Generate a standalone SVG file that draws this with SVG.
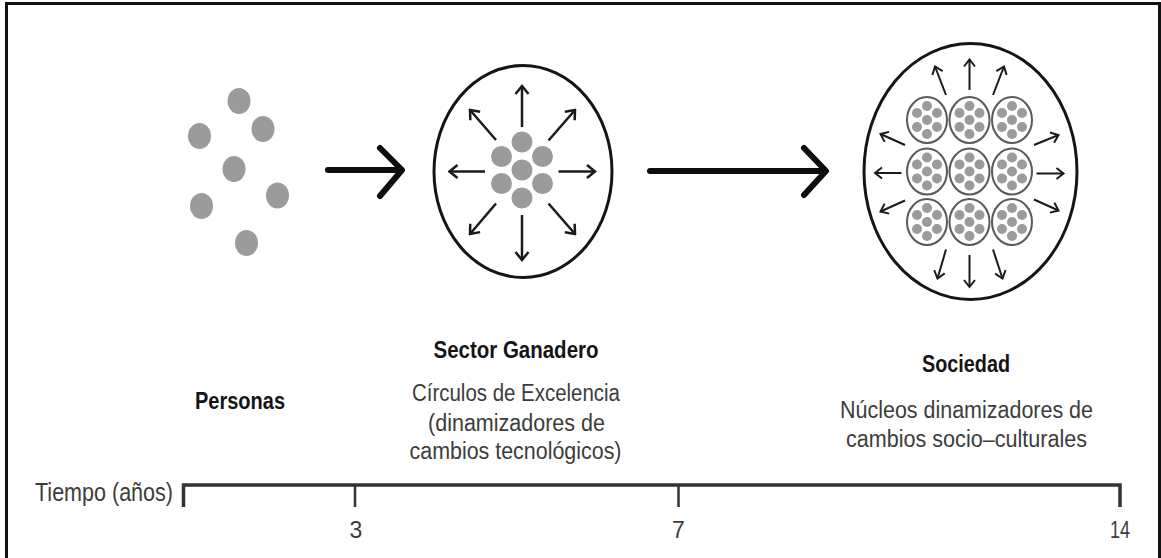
<svg xmlns="http://www.w3.org/2000/svg" xmlns:xlink="http://www.w3.org/1999/xlink" width="1161" height="558" viewBox="0 0 1161 558">
<style>
.frame{fill:none;stroke:#111;stroke-width:3}
.dot{fill:#9b9b9b}
.outer{fill:none;stroke:#151515;stroke-width:3}
.mini{fill:#fff;stroke:#5a5a5a;stroke-width:2}
.ray{fill:none;stroke:#1a1a1a;stroke-width:2.5}
.ray2{fill:none;stroke:#1a1a1a;stroke-width:2}
.big{fill:none;stroke:#0d0d0d;stroke-width:6;stroke-linecap:round;stroke-linejoin:round}
.axis{fill:none;stroke:#333;stroke-width:3.5}
.tick{fill:none;stroke:#333;stroke-width:2.5}
.title{font-family:"Liberation Sans",Arial,sans-serif;font-weight:bold;font-size:23px;fill:#141414;text-anchor:middle}
.desc{font-family:"Liberation Sans",Arial,sans-serif;font-size:23px;fill:#3c3c3c;text-anchor:middle}
.num{font-family:"Liberation Sans",Arial,sans-serif;font-size:23px;fill:#3c3c3c;text-anchor:middle}
</style>
<defs>
<marker id="ah" viewBox="-10 -8 12 16" refX="0" refY="0" markerWidth="12" markerHeight="16" markerUnits="userSpaceOnUse" orient="auto">
<path d="M-8,-6.5 L0,0 L-8,6.5" fill="none" stroke="#1a1a1a" stroke-width="2.5"/>
</marker>
<marker id="ah2" viewBox="-10 -8 12 16" refX="0" refY="0" markerWidth="12" markerHeight="16" markerUnits="userSpaceOnUse" orient="auto">
<path d="M-7,-5.5 L0,0 L-7,5.5" fill="none" stroke="#1a1a1a" stroke-width="2"/>
</marker>
<g id="cl">
<ellipse class="mini" cx="0" cy="0" rx="20" ry="23"/>
<circle class="dot" cx="0" cy="-14" r="5"/>
<circle class="dot" cx="-10" cy="-7" r="5"/>
<circle class="dot" cx="10" cy="-7" r="5"/>
<circle class="dot" cx="0" cy="0" r="5"/>
<circle class="dot" cx="-10" cy="7" r="5"/>
<circle class="dot" cx="10" cy="7" r="5"/>
<circle class="dot" cx="0" cy="14" r="5"/>
</g>
</defs>
<rect width="1161" height="558" fill="#fff"/>
<path class="frame" d="M6.5,560 V3.5 H1159.5 V560"/>

<g id="personas">
<ellipse class="dot" cx="239" cy="101" rx="11.5" ry="13"/>
<ellipse class="dot" cx="263" cy="129" rx="11.5" ry="13"/>
<ellipse class="dot" cx="199.5" cy="136" rx="11.5" ry="13"/>
<ellipse class="dot" cx="234" cy="169" rx="11.5" ry="13"/>
<ellipse class="dot" cx="201.5" cy="206" rx="11.5" ry="13"/>
<ellipse class="dot" cx="277.5" cy="195.5" rx="11.5" ry="13"/>
<ellipse class="dot" cx="246.5" cy="243" rx="11.5" ry="13"/>
<text class="title" x="240" y="409" textLength="90" lengthAdjust="spacingAndGlyphs">Personas</text>
</g>

<g id="sector">
<ellipse class="outer" cx="523" cy="171.5" rx="89" ry="106"/>
<circle class="dot" cx="522" cy="142" r="10.5"/>
<circle class="dot" cx="501.5" cy="156.5" r="10.5"/>
<circle class="dot" cx="542.5" cy="156.5" r="10.5"/>
<circle class="dot" cx="522" cy="170" r="10.5"/>
<circle class="dot" cx="501.5" cy="183.5" r="10.5"/>
<circle class="dot" cx="542.5" cy="183.5" r="10.5"/>
<circle class="dot" cx="522" cy="198" r="10.5"/>
<g marker-end="url(#ah)">
<line class="ray" x1="522" y1="127" x2="522" y2="86"/>
<line class="ray" x1="522" y1="215" x2="522" y2="260"/>
<line class="ray" x1="485" y1="171.5" x2="449.5" y2="171.5"/>
<line class="ray" x1="558.5" y1="171.5" x2="595" y2="171.5"/>
<line class="ray" x1="496" y1="140" x2="470" y2="110"/>
<line class="ray" x1="548.5" y1="140.5" x2="575" y2="110"/>
<line class="ray" x1="496" y1="203.5" x2="470" y2="234"/>
<line class="ray" x1="548.5" y1="203.5" x2="575" y2="234"/>
</g>
<text class="title" x="516" y="358" textLength="165" lengthAdjust="spacingAndGlyphs">Sector Ganadero</text>
<text class="desc" x="516" y="401" textLength="208" lengthAdjust="spacingAndGlyphs">Círculos de Excelencia</text>
<text class="desc" x="516.5" y="430.5" textLength="177" lengthAdjust="spacingAndGlyphs">(dinamizadores de</text>
<text class="desc" x="515.5" y="459" textLength="212" lengthAdjust="spacingAndGlyphs">cambios tecnológicos)</text>
</g>

<g id="sociedad">
<ellipse class="outer" cx="970.5" cy="171.5" rx="106.5" ry="128"/>
<use xlink:href="#cl" x="927" y="120"/>
<use xlink:href="#cl" x="969.5" y="120"/>
<use xlink:href="#cl" x="1012" y="120"/>
<use xlink:href="#cl" x="927" y="171.5"/>
<use xlink:href="#cl" x="969.5" y="171.5"/>
<use xlink:href="#cl" x="1012" y="171.5"/>
<use xlink:href="#cl" x="927" y="222"/>
<use xlink:href="#cl" x="969.5" y="222"/>
<use xlink:href="#cl" x="1012" y="222"/>
<g marker-end="url(#ah2)">
<line class="ray2" x1="969.5" y1="90" x2="969.5" y2="59.5"/>
<line class="ray2" x1="946" y1="95" x2="935" y2="66.5"/>
<line class="ray2" x1="993" y1="95" x2="1004" y2="66.5"/>
<line class="ray2" x1="905" y1="145" x2="880.5" y2="134"/>
<line class="ray2" x1="901.5" y1="173" x2="875" y2="173"/>
<line class="ray2" x1="905" y1="200.5" x2="880.5" y2="211.5"/>
<line class="ray2" x1="1034" y1="145" x2="1058.5" y2="135"/>
<line class="ray2" x1="1036.5" y1="173.5" x2="1063.5" y2="173.5"/>
<line class="ray2" x1="1034" y1="199.5" x2="1058.5" y2="210.5"/>
<line class="ray2" x1="946" y1="249.5" x2="937.5" y2="278.5"/>
<line class="ray2" x1="969.5" y1="255" x2="969.5" y2="287"/>
<line class="ray2" x1="993" y1="249.5" x2="1002.5" y2="278.5"/>
</g>
<text class="title" x="966" y="372" textLength="88" lengthAdjust="spacingAndGlyphs">Sociedad</text>
<text class="desc" x="966.5" y="418" textLength="253" lengthAdjust="spacingAndGlyphs">Núcleos dinamizadores de</text>
<text class="desc" x="966.5" y="446.5" textLength="241" lengthAdjust="spacingAndGlyphs">cambios socio–culturales</text>
</g>

<g id="connectors">
<path class="big" d="M328,170 H401 M380,148 L402,170 L380,196"/>
<path class="big" d="M650,171 H825 M804,148 L826,171 L804,195"/>
</g>

<g id="timeline">
<path class="axis" d="M183.5,507 V485 H1120 V507"/>
<line class="tick" x1="355" y1="485" x2="355" y2="507"/>
<line class="tick" x1="678.5" y1="485" x2="678.5" y2="507"/>
<text class="desc" x="104" y="501" style="font-size:26px" textLength="138" lengthAdjust="spacingAndGlyphs">Tiempo (años)</text>
<text class="num" x="356" y="538">3</text>
<text class="num" x="678.5" y="538">7</text>
<text class="num" x="1120" y="538" textLength="20" lengthAdjust="spacingAndGlyphs">14</text>
</g>
</svg>
